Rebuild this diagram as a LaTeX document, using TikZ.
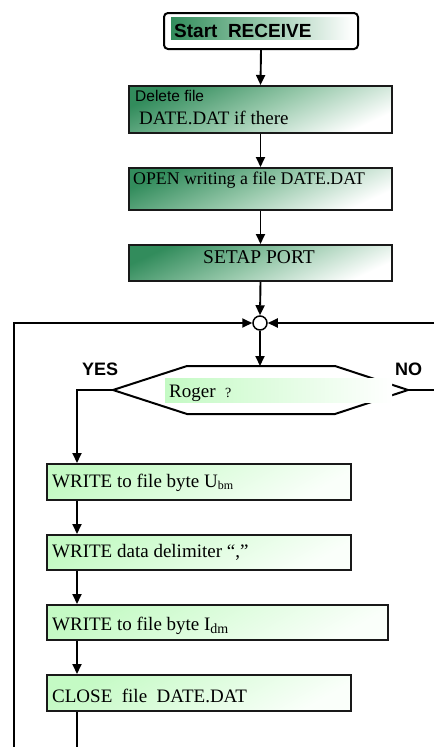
\documentclass[tikz,border=0pt]{standalone}
\usepackage{fontspec}
\setmainfont{Liberation Serif}
\setsansfont{Liberation Sans}
\usetikzlibrary{arrows.meta}
\definecolor{gdark}{RGB}{50,140,92}
\definecolor{gmid}{RGB}{150,200,170}
\definecolor{glight}{RGB}{196,250,196}
\definecolor{gpale}{RGB}{250,255,250}
\newcommand{\fs}[1]{\fontsize{#1}{#1}\selectfont}

\begin{document}
\begin{tikzpicture}[x=1pt,y=-1pt,
  box/.style={draw=black!90, line width=2pt, inner sep=0pt, anchor=north west},
  darkbox/.style={box, left color=gdark, right color=white, middle color=gmid, shading angle=25},
  lightbox/.style={box, left color=glight, right color=gpale, shading angle=30},
  txt/.style={anchor=base west, inner sep=0pt, font=\fs{19}},
  flow/.style={line width=1.9pt, -{Triangle[length=10pt,width=9pt]}},
  wire/.style={line width=1.9pt},
]
\useasboundingbox (0,0) rectangle (434,747);

% start terminal
\node[draw=black, line width=2pt, rounded corners=4pt, fill=white,
      minimum width=194pt, minimum height=36pt, inner sep=0pt, anchor=north west] (start) at (163,12) {};
\shade[left color=gdark, right color=white, middle color=gmid] (171,17) rectangle (353,39);
\node[txt, font=\sffamily\bfseries\fs{19}] (startT) at (174,37) {Start\ \ RECEIVE};

% preparation steps
\node[darkbox, minimum width=263pt, minimum height=47pt] (del) at (128,85) {};
\node[txt, font=\sffamily\fs{15.5}] (delA) at (135,101) {Delete file};
\node[txt] (delB) at (139,124) {DATE.DAT if there};

\node[darkbox, minimum width=263pt, minimum height=42pt] (open) at (128,167) {};
\node[txt, font=\fs{17.8}] (openT) at (133,184) {OPEN writing a file DATE.DAT};

\node[darkbox, minimum width=263pt, minimum height=36pt] (setap) at (128,244) {};
\node[anchor=base, inner sep=0pt, font=\fs{19.5}] (setapT) at (259,263) {SETAP PORT};

% junction
\node[circle, draw=black, line width=1.5pt, fill=white, minimum size=14pt, inner sep=0pt] (junc) at (260,323) {};

% decision
\coordinate (decL) at (113,390);
\coordinate (decR) at (408,390);
\coordinate (decT) at (260,366);
\draw[line width=2pt, fill=white] (decL) -- (187,366) -- (335,366) -- (decR) -- (335,414) -- (187,414) -- cycle;
\shade[left color=glight, right color=white] (165,378) rectangle (392,402);
\node[txt] (roger) at (169,397) {Roger\ \ {\fs{14}?}};
\node[txt, font=\sffamily\bfseries\fs{18}] (yes) at (82,375) {YES};
\node[txt, font=\sffamily\bfseries\fs{18}] (no) at (395,375) {NO};

% write steps
\node[lightbox, minimum width=304pt, minimum height=36pt] (w1) at (46,463) {};
\node[txt] (w1T) at (52,487) {WRITE to file byte U\raisebox{-2pt}{\fs{12}bm}};
\node[lightbox, minimum width=304pt, minimum height=35pt] (w2) at (46,534) {};
\node[txt] (w2T) at (52,557) {WRITE data delimiter “,”};
\node[lightbox, minimum width=341pt, minimum height=35pt] (w3) at (46,604) {};
\node[txt] (w3T) at (52,630) {WRITE to file byte I\raisebox{-3pt}{\fs{14}dm}};
\node[lightbox, minimum width=304pt, minimum height=36pt] (w4) at (46,674) {};
\node[txt] (w4T) at (52,702) {CLOSE\ \ file\ \ DATE.DAT};

% connectors
\coordinate (yesTurn) at (77,390);
\coordinate (outB) at (77,747);
\coordinate (loopB) at (14,747);
\coordinate (loopT) at (14,323);
\coordinate (rightIn) at (434,323);
\coordinate (noOut) at (434,390);

\draw[flow] (start.south) -- (del.north);
\draw[flow] (del.south) -- (open.north);
\draw[flow] (open.south) -- (setap.north);
\draw[flow] (setap.south) -- (junc.north);
\draw[flow] (junc.south) -- (decT);
\draw[flow] (decL) -- (yesTurn) -- (w1.north -| yesTurn);
\draw[flow] (w1.south -| yesTurn) -- (w2.north -| yesTurn);
\draw[flow] (w2.south -| yesTurn) -- (w3.north -| yesTurn);
\draw[flow] (w3.south -| yesTurn) -- (w4.north -| yesTurn);
\draw[wire] (w4.south -| yesTurn) -- (outB);
\draw[flow] (loopB) -- (loopT) -- (junc.west);
\draw[flow] (rightIn) -- (junc.east);
\draw[wire] (decR) -- (noOut);
\end{tikzpicture}
\end{document}
